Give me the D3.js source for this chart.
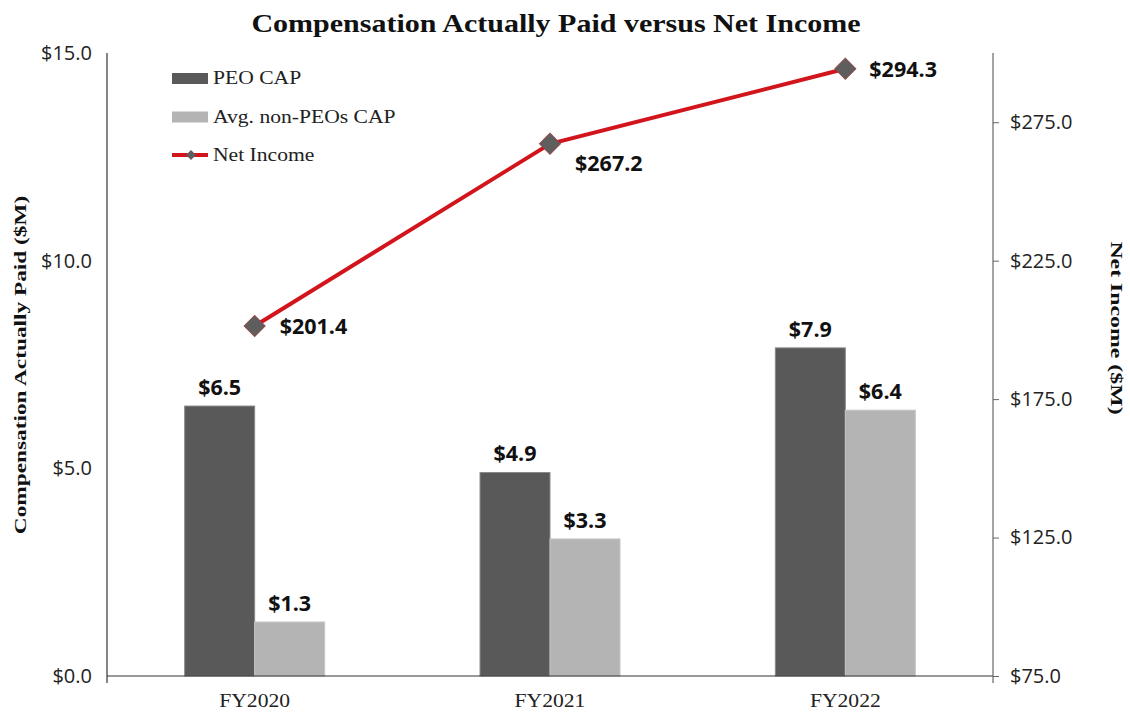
<!DOCTYPE html>
<html lang="en">
  <head>
    <meta charset="utf-8">
    <title>Compensation Actually Paid versus Net Income</title>
    <script src="https://d3js.org/d3.v7.min.js"></script>
    <style>
      body { margin: 0; background: #fff; }
      .tick-label { font-family: "Open Sans", "Noto Sans", sans-serif; font-size: 20px; fill: #222; }
      .serif { font-family: "Liberation Serif", "Times New Roman", serif; }
      .val { font-family: "Open Sans", "Noto Sans", sans-serif; font-size: 21.5px; font-weight: bold; fill: #111; }
    </style>
  </head>
  <body>
  <div id="chart"></div>
  <script>

  // chart data
  var years = ["FY2020", "FY2021", "FY2022"];
  var peoCap = [6.5, 4.9, 7.9];
  var nonPeoCap = [1.3, 3.3, 6.4];
  var netIncome = [201.4, 267.2, 294.3];
  var leftTicks = [0, 5, 10, 15];
  var rightTicks = [75, 125, 175, 225, 275];
  var legendItems = ["PEO CAP", "Avg. non-PEOs CAP", "Net Income"];

  var w = 1130;
  var h = 715;
  var margin = {top: 53, right: 137, bottom: 39, left: 107};
  var innerWidth = w - margin.left - margin.right;
  var innerHeight = h - margin.top - margin.bottom;

  var colors = {peo: "#595959", nonPeo: "#b4b4b4", line: "#d2141c", marker: "#5e5e5e"};

  var svg = d3.select("#chart")
    .append("svg")
    .attr("width", w)
    .attr("height", h);

  // serif text in the original is drawn a bit wider than the font's natural width
  function stretch(sel, factor) {
    sel.each(function() {
      var len = this.getComputedTextLength();
      d3.select(this)
        .attr("textLength", len * factor)
        .attr("lengthAdjust", "spacingAndGlyphs");
    });
  }

  var g = svg.append("g")
    .attr("transform", `translate(${margin.left}, ${margin.top})`);

  // scales
  var xScale = d3.scaleBand()
    .domain(years)
    .range([0, innerWidth])
    .paddingInner(0.526)
    .paddingOuter(0.263);

  var yLeft = d3.scaleLinear().domain([0, 15]).range([innerHeight, 0]);
  var yRight = d3.scaleLinear().domain([75, 300]).range([innerHeight, 0]);

  var bw = xScale.bandwidth() / 2;

  // bars
  var series = [
    {key: "peo", values: peoCap, offset: 0},
    {key: "nonPeo", values: nonPeoCap, offset: 1}
  ];

  series.forEach(function(s) {
    g.selectAll(".bar-" + s.key)
      .data(years)
      .enter().append("rect")
      .attr("class", "bar-" + s.key)
      .attr("x", (d, i) => xScale(d) + s.offset * bw)
      .attr("y", (d, i) => yLeft(s.values[i]))
      .attr("width", bw)
      .attr("height", (d, i) => innerHeight - yLeft(s.values[i]))
      .attr("fill", colors[s.key])
      .attr("stroke", s.key == "peo" ? "#8a8a8a" : "#c4c4c4")
      .attr("stroke-width", 1);

    g.selectAll(".lbl-" + s.key)
      .data(years)
      .enter().append("text")
      .attr("class", "val")
      .attr("x", (d, i) => xScale(d) + s.offset * bw + bw / 2)
      .attr("y", (d, i) => yLeft(s.values[i]) - 11)
      .attr("text-anchor", "middle")
      .text((d, i) => "$" + s.values[i].toFixed(1));
  });

  // axes
  g.append("line")
    .attr("x1", 0).attr("x2", innerWidth)
    .attr("y1", innerHeight).attr("y2", innerHeight)
    .attr("stroke", "#333").attr("stroke-width", 1.2);

  var leftAxis = d3.axisLeft(yLeft)
    .tickValues(leftTicks)
    .tickSize(0)
    .tickPadding(15)
    .tickFormat(d => "$" + d3.format(".1f")(d));

  var la = g.append("g").call(leftAxis);
  la.select(".domain").remove();
  la.selectAll("text").attr("class", "tick-label").attr("fill", null);
  g.append("line")
    .attr("x1", 0).attr("x2", 0).attr("y1", 0).attr("y2", innerHeight + 7)
    .attr("stroke", "#333").attr("stroke-width", 1.2);

  var rightAxis = d3.axisRight(yRight)
    .tickValues(rightTicks)
    .tickSize(6)
    .tickPadding(11)
    .tickFormat(d => "$" + d3.format(".1f")(d));

  var ra = g.append("g")
    .attr("transform", `translate(${innerWidth}, 0)`)
    .call(rightAxis);
  ra.select(".domain").remove();
  ra.selectAll("line").attr("stroke", "#666");
  ra.selectAll("text").attr("class", "tick-label").attr("fill", null);
  g.append("line")
    .attr("x1", innerWidth).attr("x2", innerWidth).attr("y1", 0).attr("y2", innerHeight + 7)
    .attr("stroke", "#666").attr("stroke-width", 1.2);
  la.attr("font-family", null).attr("font-size", null);
  ra.attr("font-family", null).attr("font-size", null);

  // category labels
  g.selectAll(".cat")
    .data(years)
    .enter().append("text")
    .attr("class", "serif cat")
    .attr("x", d => xScale(d) + xScale.bandwidth() / 2)
    .attr("y", innerHeight + 31)
    .attr("text-anchor", "middle")
    .attr("font-size", 18)
    .attr("fill", "#222")
    .text(d => d)
    .call(stretch, 1.2);

  // net income line
  var line = d3.line()
    .x((d, i) => xScale(years[i]) + xScale.bandwidth() / 2)
    .y(d => yRight(d));

  g.append("path")
    .datum(netIncome)
    .attr("d", line)
    .attr("fill", "none")
    .attr("stroke", colors.line)
    .attr("stroke-width", 4);

  g.selectAll(".marker")
    .data(netIncome)
    .enter().append("path")
    .attr("d", d3.symbol().type(d3.symbolSquare).size(220))
    .attr("transform", (d, i) => `translate(${xScale(years[i]) + xScale.bandwidth() / 2}, ${yRight(d)}) rotate(45)`)
    .attr("fill", colors.marker)
    .attr("stroke", "#8a4a4c")
    .attr("stroke-width", 1);

  // label offsets for the line values
  var lineLabelOffsets = [[25, 8], [25, 27], [24, 8]];

  g.selectAll(".ni-lbl")
    .data(netIncome)
    .enter().append("text")
    .attr("class", "val")
    .attr("x", (d, i) => xScale(years[i]) + xScale.bandwidth() / 2 + lineLabelOffsets[i][0])
    .attr("y", (d, i) => yRight(d) + lineLabelOffsets[i][1])
    .text(d => "$" + d.toFixed(1));

  // title
  svg.append("text")
    .attr("class", "serif")
    .attr("x", 556)
    .attr("y", 32)
    .attr("text-anchor", "middle")
    .attr("font-size", 25)
    .attr("font-weight", "bold")
    .attr("fill", "#111")
    .text("Compensation Actually Paid versus Net Income")
    .call(stretch, 1.2);

  // axis titles
  svg.append("text")
    .attr("class", "serif")
    .attr("transform", "translate(26, 365) rotate(-90)")
    .attr("text-anchor", "middle")
    .attr("font-size", 17)
    .attr("font-weight", "bold")
    .attr("fill", "#111")
    .text("Compensation Actually Paid ($M)")
    .call(stretch, 1.37);

  svg.append("text")
    .attr("class", "serif")
    .attr("transform", "translate(1111, 328) rotate(90)")
    .attr("text-anchor", "middle")
    .attr("font-size", 17)
    .attr("font-weight", "bold")
    .attr("fill", "#111")
    .text("Net Income ($M)")
    .call(stretch, 1.4);

  // legend
  var legend = svg.append("g").attr("transform", "translate(172, 78)");

  legendItems.forEach(function(name, i) {
    var row = legend.append("g").attr("transform", `translate(0, ${i * 38.5})`);
    if (i < 2) {
      row.append("rect")
        .attr("x", 0).attr("y", -5)
        .attr("width", 36).attr("height", 11)
        .attr("fill", i == 0 ? colors.peo : colors.nonPeo);
    } else {
      row.append("line")
        .attr("x1", 0).attr("x2", 36).attr("y1", 0).attr("y2", 0)
        .attr("stroke", colors.line).attr("stroke-width", 4);
      row.append("path")
        .attr("d", d3.symbol().type(d3.symbolSquare).size(50))
        .attr("transform", "translate(19, 0) rotate(45)")
        .attr("fill", colors.marker);
    }
    row.append("text")
      .attr("class", "serif")
      .attr("x", 41)
      .attr("y", 6)
      .attr("font-size", 18)
      .attr("fill", "#222")
      .text(name)
      .call(stretch, 1.2);
  });

  </script>
  </body>
</html>
